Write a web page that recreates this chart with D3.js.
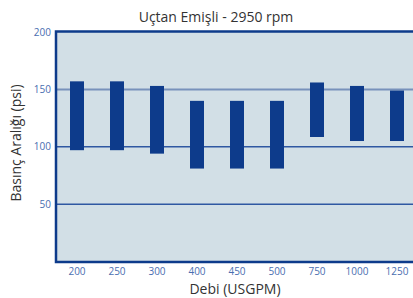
<!DOCTYPE html>
<html><head><meta charset="utf-8">
<script src="https://cdn.jsdelivr.net/npm/d3@7"></script>
<style>body{margin:0;background:#fff;}svg{display:block;font-family:"Open Sans",sans-serif;}</style>
</head><body>
<svg id="c" width="413" height="298"></svg>
<script>
const categories = ["200","250","300","400","450","500","750","1000","1250"];
const lowValues  = [97, 97, 94, 81, 81, 81, 108.5, 105, 105];
const highValues = [157, 157, 153, 140, 140, 140, 156, 153, 149];
const yTicks = [50, 100, 150, 200];
const title = "Uçtan Emişli - 2950 rpm";
const xTitle = "Debi (USGPM)";
const yTitle = "Basınç Aralığı (psi)";

const svg = d3.select("#c");
const x = d3.scaleBand().domain(categories).range([57, 417]).paddingInner(0).paddingOuter(0);
const y = d3.scaleLinear().domain([0, 200]).range([261.5, 32]);
const bw = 14;

// plot background
svg.append("rect").attr("x", 57).attr("y", y(200)).attr("width", 413 - 57 + 10).attr("height", y(0) - y(200))
  .attr("fill", "#d2dfe6");

// gridlines
yTicks.filter(t => t !== 200).forEach(t => {
  svg.append("line").attr("x1", 57).attr("x2", 413).attr("y1", y(t)).attr("y2", y(t))
    .attr("stroke", t === 150 ? "#7892bb" : "#2f58a2")
    .attr("stroke-width", t === 150 ? 2 : 1.5);
});

// bars
svg.selectAll("rect.bar").data(categories).enter().append("rect").attr("class", "bar")
  .attr("x", d => x(d) + x.bandwidth() / 2 - bw / 2)
  .attr("width", bw)
  .attr("y", (d, i) => y(highValues[i]))
  .attr("height", (d, i) => y(lowValues[i]) - y(highValues[i]))
  .attr("fill", "#0d3b8b");

// frame
svg.append("path").attr("d", `M420,${y(200)-0.5}H56V${y(0)+0.5}H420`)
  .attr("fill", "none").attr("stroke", "#0d3b8b").attr("stroke-width", 2.5);

// y axis labels
const yAxis = d3.axisLeft(y).tickValues(yTicks).tickSize(0).tickPadding(3);
const gy = svg.append("g").attr("transform", "translate(54,0)").call(yAxis);
gy.select(".domain").remove();
gy.selectAll("text").attr("fill", "#4a6eb0").style("font-size", "10px").style("font-family", "Open Sans");

// x axis labels
const xAxis = d3.axisBottom(x).tickSize(0).tickPadding(5);
const gx = svg.append("g").attr("transform", `translate(0,${y(0)+1})`).call(xAxis);
gx.select(".domain").remove();
gx.selectAll("text").attr("fill", "#4a6eb0").style("font-size", "10px").style("font-family", "Open Sans");

// titles
svg.append("text").attr("x", 216).attr("y", 22).attr("text-anchor", "middle")
  .attr("fill", "#333").style("font-size", "14px").text(title);
svg.append("text").attr("x", 235).attr("y", 294).attr("text-anchor", "middle")
  .attr("fill", "#333").style("font-size", "14px").text(xTitle);
svg.append("text").attr("transform", "translate(21,143) rotate(-90)").attr("text-anchor", "middle")
  .attr("fill", "#333").style("font-size", "14px").text(yTitle);
</script>
</body></html>
